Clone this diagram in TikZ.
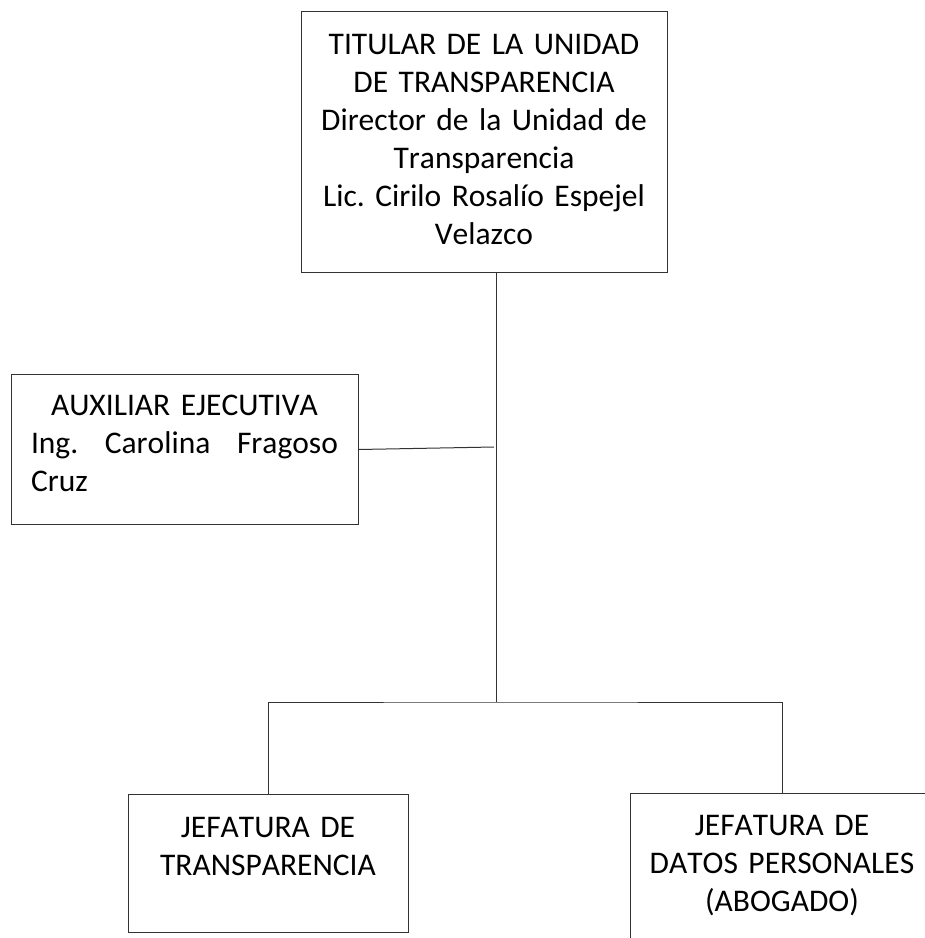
\documentclass[tikz,border=0pt]{standalone}
\usepackage{fontspec}
\setmainfont{Carlito}[Kerning=Off]
\frenchspacing
\newcommand\cajitafont{\fontsize{31.5}{38}\selectfont\spaceskip=5.8pt plus 2pt minus 1pt\relax}
\begin{document}
\begin{tikzpicture}[x=1pt, y=-1pt,
	cajita/.style={draw=black!80, line width=1pt, anchor=north, align=center, inner xsep=10pt, inner ysep=0pt, text height=43pt, font=\cajitafont},
	linea/.style={draw=black!80, line width=1pt}]
	\clip (0,0) rectangle (925,938);

	%titular de la unidad
	\node[cajita, text width=346pt, text depth=218pt] (titular) at (484,11) {TITULAR DE LA UNIDAD\\ DE TRANSPARENCIA\\ Director de la Unidad de\\ Transparencia\\ Lic. Cirilo Rosalío Espejel\\ Velazco};

	%auxiliar ejecutiva
	\node[cajita, align=left, inner xsep=20pt, text width=307pt, text height=41pt, text depth=109pt] (auxiliar) at (184.5,374) {\makebox[307pt][c]{AUXILIAR EJECUTIVA}\\ \makebox[307pt][l]{Ing.\hfill Carolina\hfill Fragoso}\\ Cruz};

	%jefaturas
	\node[cajita, text width=260pt, text depth=95pt] (jtransparencia) at (268,794) {JEFATURA DE\\ TRANSPARENCIA};
	\node[cajita, text width=284pt, text height=42pt, text depth=130pt] (jdatos) at (782,793) {JEFATURA DE\\ DATOS PERSONALES\\ (ABOGADO)};

	%connectors
	\coordinate (barra) at (496,702);
	\coordinate (auxunion) at (494,447);
	\draw[linea] (titular.south -| barra) -- (barra);
	\draw[linea] (auxiliar.east) -- (auxunion);
	\draw[linea] (jtransparencia.north) |- (barra) -| (jdatos.north);
\end{tikzpicture}
\end{document}
